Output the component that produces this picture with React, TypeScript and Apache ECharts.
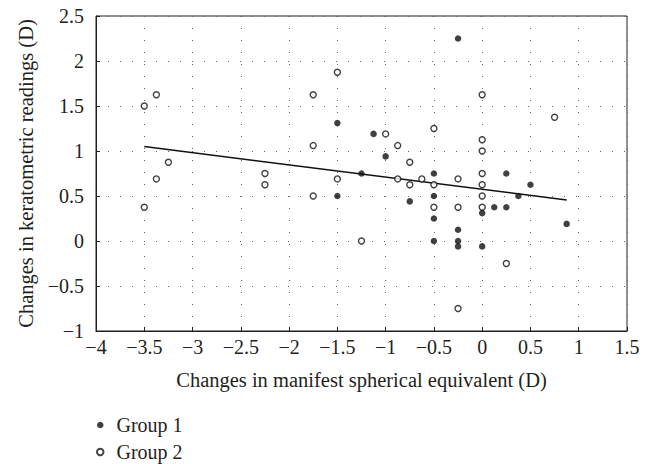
import React, { useEffect, useRef } from "react";
import * as echarts from "echarts";

const xTicks = { min: -4, max: 1.5, interval: 0.5 };
const yTicks = { min: -1, max: 2.5, interval: 0.5 };

const group1: number[][] = [
  [-1.5, 1.31], [-1.5, 0.5], [-1.125, 1.19], [-1, 0.94], [-1.25, 0.75],
  [-0.75, 0.44], [-0.5, 0.75], [-0.5, 0.5], [-0.5, 0.25], [-0.5, 0],
  [-0.25, 2.25], [-0.25, 0.125], [-0.25, 0], [-0.25, -0.06], [0, 0.31],
  [0, -0.06], [0.125, 0.375], [0.25, 0.375], [0.25, 0.75], [0.375, 0.5],
  [0.5, 0.625], [0.875, 0.19],
];

const group2: number[][] = [
  [-3.5, 1.5], [-3.5, 0.375], [-3.375, 1.625], [-3.375, 0.69], [-3.25, 0.875],
  [-2.25, 0.75], [-2.25, 0.625], [-1.75, 1.625], [-1.75, 1.06], [-1.75, 0.5],
  [-1.5, 1.875], [-1.5, 0.69], [-1.25, 0], [-1, 1.19], [-0.875, 1.06],
  [-0.875, 0.69], [-0.75, 0.875], [-0.75, 0.625], [-0.625, 0.69], [-0.5, 1.25],
  [-0.5, 0.625], [-0.5, 0.375], [-0.25, 0.69], [-0.25, 0.375], [-0.25, -0.75],
  [0, 1.625], [0, 1.125], [0, 1.0], [0, 0.75], [0, 0.625], [0, 0.5], [0, 0.375],
  [0.25, -0.25], [0.75, 1.375],
];

const fitLine: number[][] = [[-3.5, 1.05], [0.875, 0.455]];

const FONT = "Liberation Serif";
const INK = "#231f20";
const fmt = (v: number) => String(v).replace("-", "\u2212");

export default function App() {
  const ref = useRef<HTMLDivElement>(null);
  useEffect(() => {
    if (!ref.current) return;
    const chart = echarts.init(ref.current, null, { renderer: "svg" });
    const gridLine = { show: true, lineStyle: { color: "#666", width: 1, type: [1, 11] as any } };
    chart.setOption({
      animation: false,
      backgroundColor: "#fff",
      textStyle: { fontFamily: FONT },
      grid: {
        left: 96, right: 22, top: 16, bottom: 133,
        show: true, borderColor: INK, borderWidth: 1, backgroundColor: "transparent",
      },
      legend: {
        orient: "vertical",
        left: 96,
        top: 414,
        padding: 0,
        icon: "circle",
        itemWidth: 6.5,
        itemHeight: 6.5,
        itemGap: 5,
        textStyle: { fontFamily: FONT, fontSize: 20, color: INK, lineHeight: 22, padding: [0, 0, 0, 8] },
        data: ["Group 1", "Group 2"],
      },
      xAxis: {
        type: "value",
        min: xTicks.min, max: xTicks.max, interval: xTicks.interval,
        name: "Changes in manifest spherical equivalent (D)",
        nameLocation: "middle",
        nameGap: 38,
        nameTextStyle: { fontFamily: FONT, fontSize: 20.5, color: INK },
        axisLine: { show: true, onZero: false, lineStyle: { color: INK, width: 1 } },
        axisTick: { show: true, inside: true, length: 4, lineStyle: { color: INK } },
        axisLabel: { formatter: fmt, fontFamily: FONT, fontSize: 20, color: INK, margin: 6 },
        splitLine: gridLine,
      },
      yAxis: {
        type: "value",
        min: yTicks.min, max: yTicks.max, interval: yTicks.interval,
        name: "Changes in keratometric readings (D)",
        nameLocation: "middle",
        nameGap: 58,
        nameTextStyle: { fontFamily: FONT, fontSize: 20.5, color: INK },
        axisLine: { show: true, onZero: false, lineStyle: { color: INK, width: 1 } },
        axisTick: { show: true, inside: true, length: 4, lineStyle: { color: INK } },
        axisLabel: { formatter: fmt, fontFamily: FONT, fontSize: 20, color: INK, margin: 12 },
        splitLine: gridLine,
      },
      series: [
        {
          name: "Fit",
          type: "line",
          data: fitLine,
          symbol: "none",
          lineStyle: { color: "#111", width: 1.5 },
          silent: true,
          z: 1,
        },
        {
          name: "Group 1",
          type: "scatter",
          data: group1,
          symbol: "circle",
          symbolSize: 6.5,
          itemStyle: { color: "#111", borderColor: "#111", borderWidth: 0 },
          z: 3,
        },
        {
          name: "Group 2",
          type: "scatter",
          data: group2,
          symbol: "circle",
          symbolSize: 6,
          itemStyle: { color: "#fff", borderColor: "#111", borderWidth: 1.4 },
          z: 3,
        },
      ],
    });
    return () => chart.dispose();
  }, []);
  return <div ref={ref} style={{ position: "absolute", left: 0, top: 0, width: 649, height: 464 }} />;
}
